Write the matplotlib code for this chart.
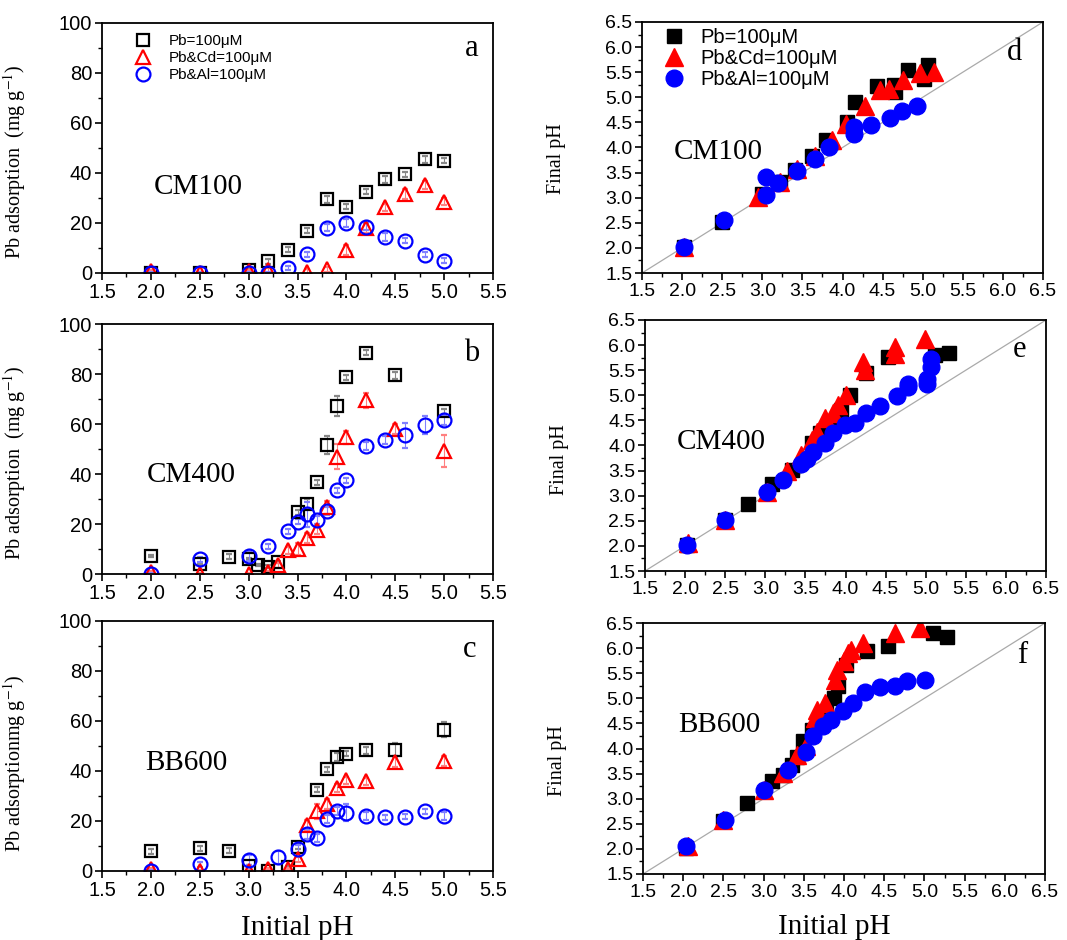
import numpy as np
import matplotlib
matplotlib.use("Agg")
import matplotlib.pyplot as plt
from matplotlib.ticker import MultipleLocator

plt.rcParams['font.family'] = ['Liberation Sans', 'DejaVu Sans']
plt.rcParams['mathtext.fontset'] = 'stix'

SERIF = ['Liberation Serif', 'DejaVu Serif']

labels = ['Pb=100\u03bcM', 'Pb&Cd=100\u03bcM', 'Pb&Al=100\u03bcM']
colors = ['black', 'red', 'blue']
ecolors = ['#888888', '#ff8080', '#8080ff']

# ---------------- Panel a (CM100 adsorption) ----------------
a_pb_x = [2.0, 2.5, 3.0, 3.2, 3.4, 3.6, 3.8, 4.0, 4.2, 4.4, 4.6, 4.8, 5.0]
a_pb_y = [0.0, 0.0, 1.3, 4.7, 9.3, 16.9, 29.5, 26.6, 32.6, 37.5, 39.6, 45.5, 45.0]
a_pb_e = [0.5, 0.5, 0.5, 1.0, 1.0, 1.0, 1.5, 1.0, 1.0, 1.5, 1.0, 1.5, 1.0]
a_cd_x = [2.0, 2.5, 3.0, 3.2, 3.6, 3.8, 4.0, 4.2, 4.4, 4.6, 4.8, 5.0]
a_cd_y = [0.8, 0.0, 0.8, 1.2, 0.5, 1.5, 9.3, 18.0, 26.3, 31.5, 35.2, 28.6]
a_cd_e = [0.5, 0.5, 0.5, 1.0, 1.0, 1.0, 2.0, 2.0, 1.5, 2.0, 1.5, 1.5]
a_al_x = [2.0, 2.5, 3.0, 3.2, 3.4, 3.6, 3.8, 4.0, 4.2, 4.4, 4.6, 4.8, 5.0]
a_al_y = [0.0, 0.0, 0.0, 0.0, 2.0, 7.6, 18.2, 20.0, 18.6, 14.4, 13.0, 7.3, 4.9]
a_al_e = [0.5, 0.5, 0.5, 0.5, 0.8, 1.0, 1.5, 1.5, 1.5, 1.5, 1.0, 1.0, 1.0]

# ---------------- Panel b (CM400 adsorption) ----------------
b_pb_x = [2.0, 2.5, 2.8, 3.0, 3.1, 3.2, 3.3, 3.5, 3.6, 3.7, 3.8, 3.9, 4.0, 4.2, 4.5, 5.0]
b_pb_y = [7.3, 4.0, 6.9, 6.0, 3.6, 3.0, 4.9, 24.8, 28.0, 36.8, 51.6, 67.3, 78.7, 88.5, 79.5, 65.2]
b_pb_e = [0.5, 0.5, 1.0, 0.5, 0.5, 0.5, 0.5, 1.0, 2.0, 1.0, 3.5, 4.0, 1.0, 1.0, 1.5, 1.0]
b_cd_x = [2.0, 2.5, 3.0, 3.2, 3.3, 3.4, 3.5, 3.6, 3.7, 3.8, 3.9, 4.0, 4.2, 4.5, 5.0]
b_cd_y = [0.8, 0.0, 0.0, 0.8, 3.6, 9.5, 10.0, 14.3, 17.6, 26.7, 46.9, 54.7, 69.6, 57.9, 49.3]
b_cd_e = [0.5, 0.5, 0.5, 0.5, 1.0, 1.5, 2.5, 2.0, 1.5, 2.5, 5.0, 2.5, 3.0, 2.0, 6.5]
b_al_x = [2.0, 2.5, 3.0, 3.2, 3.4, 3.5, 3.6, 3.7, 3.8, 3.9, 4.0, 4.2, 4.4, 4.6, 4.8, 5.0]
b_al_y = [0.0, 6.0, 7.2, 11.2, 17.2, 20.9, 24.0, 21.6, 25.3, 33.6, 37.6, 51.2, 53.6, 55.6, 59.6, 61.6]
b_al_e = [0.5, 1.0, 2.0, 1.0, 1.0, 1.0, 5.0, 1.5, 1.5, 1.0, 1.0, 1.5, 1.5, 5.0, 3.5, 2.0]

# ---------------- Panel c (BB600 adsorption) ----------------
c_pb_x = [2.0, 2.5, 2.8, 3.0, 3.2, 3.4, 3.5, 3.7, 3.8, 3.9, 4.0, 4.2, 4.5, 5.0]
c_pb_y = [8.0, 9.1, 8.1, 2.0, 0.0, 1.7, 9.7, 32.6, 40.7, 45.7, 47.0, 48.3, 48.6, 56.6]
c_pb_e = [1.0, 1.0, 1.0, 0.5, 0.5, 0.5, 1.0, 1.0, 1.0, 1.5, 1.0, 1.5, 2.5, 3.0]
c_cd_x = [2.0, 2.5, 3.0, 3.2, 3.4, 3.5, 3.6, 3.7, 3.8, 3.9, 4.0, 4.2, 4.5, 5.0]
c_cd_y = [0.8, 0.0, 0.0, 0.8, 0.8, 4.7, 18.6, 24.0, 26.8, 33.3, 36.3, 35.9, 43.7, 43.9]
c_cd_e = [0.5, 0.5, 0.5, 0.5, 0.5, 1.0, 2.0, 3.0, 2.0, 1.5, 1.5, 1.5, 2.0, 2.0]
c_al_x = [2.0, 2.5, 3.0, 3.3, 3.5, 3.6, 3.7, 3.8, 3.9, 4.0, 4.2, 4.4, 4.6, 4.8, 5.0]
c_al_y = [0.0, 2.8, 4.4, 5.5, 8.9, 14.8, 13.3, 20.8, 24.1, 23.4, 22.0, 21.6, 21.7, 24.0, 22.1]
c_al_e = [0.5, 1.0, 2.0, 2.5, 1.5, 2.0, 1.5, 1.5, 1.5, 3.5, 1.5, 1.0, 1.0, 1.0, 1.5]

# ---------------- Panel d (CM100 final pH) ----------------
d_pb_x = [2.02, 2.50, 3.00, 3.22, 3.41, 3.62, 3.79, 4.06, 4.16, 4.43, 4.66, 4.64, 4.82, 5.01, 5.07]
d_pb_y = [2.02, 2.52, 3.08, 3.31, 3.55, 3.84, 4.14, 4.51, 4.91, 5.22, 5.10, 5.24, 5.55, 5.37, 5.64]
d_cd_x = [2.02, 2.95, 3.22, 3.43, 3.66, 3.87, 4.04, 4.28, 4.47, 4.58, 4.76, 4.97, 5.14]
d_cd_y = [2.02, 3.01, 3.31, 3.58, 3.84, 4.14, 4.47, 4.82, 5.15, 5.17, 5.34, 5.48, 5.50]
d_al_x = [2.02, 2.52, 3.04, 3.04, 3.20, 3.43, 3.66, 3.83, 4.14, 4.14, 4.35, 4.59, 4.74, 4.93]
d_al_y = [2.02, 2.55, 3.41, 3.05, 3.29, 3.53, 3.78, 4.01, 4.41, 4.26, 4.44, 4.59, 4.72, 4.82]

# ---------------- Panel e (CM400 final pH) ----------------
e_pb_x = [2.02, 2.50, 2.79, 3.08, 3.33, 3.58, 3.68, 3.83, 3.95, 4.06, 4.26, 4.53, 5.12, 5.29]
e_pb_y = [2.01, 2.51, 2.84, 3.24, 3.51, 4.04, 4.24, 4.44, 4.70, 5.00, 5.44, 5.77, 5.80, 5.85]
e_cd_x = [2.04, 2.50, 3.02, 3.27, 3.45, 3.58, 3.64, 3.74, 3.85, 3.91, 4.01, 4.22, 4.24, 4.62, 4.62, 4.99]
e_cd_y = [2.05, 2.51, 3.08, 3.50, 3.81, 4.11, 4.27, 4.54, 4.64, 4.80, 5.00, 5.67, 5.50, 5.97, 5.82, 6.13]
e_al_x = [2.02, 2.50, 3.02, 3.22, 3.45, 3.52, 3.60, 3.74, 3.85, 3.99, 4.12, 4.26, 4.43, 4.64, 4.78, 4.78, 5.02, 5.02, 5.07, 5.07]
e_al_y = [2.01, 2.52, 3.08, 3.31, 3.64, 3.74, 3.87, 4.05, 4.25, 4.41, 4.45, 4.64, 4.78, 4.98, 5.16, 5.22, 5.22, 5.32, 5.57, 5.73]

# ---------------- Panel f (BB600 final pH) ----------------
f_pb_x = [2.04, 2.50, 2.79, 3.10, 3.24, 3.35, 3.41, 3.49, 3.60, 3.78, 3.87, 3.93, 4.03, 4.28, 4.55, 5.11, 5.28]
f_pb_y = [2.02, 2.55, 2.91, 3.35, 3.48, 3.68, 3.84, 4.14, 4.37, 4.70, 5.00, 5.25, 5.67, 5.94, 6.04, 6.30, 6.22]
f_cd_x = [2.06, 2.50, 3.01, 3.24, 3.41, 3.53, 3.64, 3.66, 3.76, 3.89, 3.91, 4.00, 4.05, 4.09, 4.24, 4.64, 4.94]
f_cd_y = [2.05, 2.58, 3.18, 3.51, 3.88, 4.04, 4.61, 4.77, 4.90, 5.37, 5.57, 5.74, 5.90, 5.96, 6.10, 6.30, 6.40]
f_al_x = [2.04, 2.52, 3.01, 3.30, 3.53, 3.62, 3.74, 3.84, 3.99, 4.11, 4.26, 4.45, 4.63, 4.78, 5.01]
f_al_y = [2.05, 2.57, 3.18, 3.58, 3.94, 4.24, 4.44, 4.57, 4.74, 4.91, 5.12, 5.22, 5.25, 5.35, 5.36]

W, H = 1067, 940
fig = plt.figure(figsize=(W / 100, H / 100), dpi=100)


def add_ax(left, right, top, bottom):
    return fig.add_axes([left / W, (H - bottom) / H, (right - left) / W, (bottom - top) / H])


def style(ax, xlim, ylim, xmaj, xmin, ymaj, ymin, fs):
    ax.set_xlim(*xlim)
    ax.set_ylim(*ylim)
    ax.xaxis.set_major_locator(MultipleLocator(xmaj))
    ax.xaxis.set_minor_locator(MultipleLocator(xmin))
    ax.yaxis.set_major_locator(MultipleLocator(ymaj))
    ax.yaxis.set_minor_locator(MultipleLocator(ymin))
    ax.tick_params(which='major', direction='out', length=5, width=1.2, labelsize=fs, pad=2)
    ax.tick_params(which='minor', direction='out', length=3, width=1.0)
    for s in ax.spines.values():
        s.set_linewidth(1.3)


# Left column
left_specs = [
    (add_ax(102, 493, 23, 273), 'a', 'CM100', (2.03, 31.6), (5.28, 89.8), 0.444,
     'Pb adsorption  (mg g$^{-1}$)',
     [(a_pb_x, a_pb_y, a_pb_e), (a_cd_x, a_cd_y, a_cd_e), (a_al_x, a_al_y, a_al_e)]),
    (add_ax(102, 493, 324, 574), 'b', 'CM400', (1.96, 36.9), (5.28, 88.3), 0.444,
     'Pb adsorption  (mg g$^{-1}$)',
     [(b_pb_x, b_pb_y, b_pb_e), (b_cd_x, b_cd_y, b_cd_e), (b_al_x, b_al_y, b_al_e)]),
    (add_ax(102, 493, 621, 871), 'c', 'BB600', (1.94, 40.3), (5.26, 88.5), 0.43,
     'Pb adsorptionmg g$^{-1}$)',
     [(c_pb_x, c_pb_y, c_pb_e), (c_cd_x, c_cd_y, c_cd_e), (c_al_x, c_al_y, c_al_e)]),
]
open_markers = [('s', 8), ('^', 10), ('o', 10)]

for i, (ax, letter, name, npos, lpos, ylc, ylab, series) in enumerate(left_specs):
    for (x, y, e), (m, ms), c, ec, lab in zip(series, open_markers, colors, ecolors, labels):
        ax.errorbar(x, y, yerr=e, fmt=m, ms=ms, mfc='none', mec=c, mew=1.6,
                    ecolor=ec, elinewidth=0.8, capsize=2.5, capthick=0.8, label=lab)
    style(ax, (1.5, 5.5), (0, 100), 0.5, 0.25, 20, 10, 14.5)
    ax.set_ylabel(ylab, family=SERIF, fontsize=14.5)
    ax.yaxis.set_label_coords(-0.19, ylc)
    ax.text(npos[0], npos[1], name, family=SERIF, fontsize=21, ha='left', va='baseline')
    ax.text(lpos[0], lpos[1], letter, family=SERIF, fontsize=22, ha='center', va='center')
    if i == 0:
        h, l = ax.get_legend_handles_labels()
        h = [hh[0] for hh in h]
        ax.legend(h, l, loc='upper left', bbox_to_anchor=(0.085, 0.955), frameon=False,
                  fontsize=11, handlelength=1.0, handletextpad=1.2, labelspacing=0.2,
                  borderpad=0, borderaxespad=0)

# Right column
right_specs = [
    (add_ax(642, 1043, 22, 273), 'd', 'CM100', (1.89, 3.78), (6.15, 5.9), 0.454,
     [(d_pb_x, d_pb_y), (d_cd_x, d_cd_y), (d_al_x, d_al_y)]),
    (add_ax(645, 1046, 320, 571), 'e', 'CM400', (1.90, 3.94), (6.17, 5.91), 0.444,
     [(e_pb_x, e_pb_y), (e_cd_x, e_cd_y), (e_al_x, e_al_y)]),
    (add_ax(643, 1045, 623, 874), 'f', 'BB600', (1.94, 4.33), (6.22, 5.85), 0.45,
     [(f_pb_x, f_pb_y), (f_cd_x, f_cd_y), (f_al_x, f_al_y)]),
]
filled_markers = [('s', 10), ('^', 13), ('o', 12)]

for i, (ax, letter, name, npos, lpos, ylc, series) in enumerate(right_specs):
    ax.plot([1.5, 6.5], [1.5, 6.5], color='#aaaaaa', lw=0.9, zorder=1)
    for (x, y), (m, ms), c, lab in zip(series, filled_markers, colors, labels):
        ax.plot(x, y, m, ms=ms, color=c, mec=c, label=lab, zorder=2)
    style(ax, (1.5, 6.5), (1.5, 6.5), 0.5, 0.25, 0.5, 0.25, 14)
    ax.set_ylabel('Final pH', family=SERIF, fontsize=14.5)
    ax.yaxis.set_label_coords(-0.19, ylc)
    ax.text(npos[0], npos[1], name, family=SERIF, fontsize=21, ha='left', va='baseline')
    ax.text(lpos[0], lpos[1], letter, family=SERIF, fontsize=22, ha='center', va='center')
    if i == 0:
        ax.legend(loc='upper left', bbox_to_anchor=(0.055, 0.975), frameon=False,
                  fontsize=14.5, handlelength=1.0, handletextpad=0.8, labelspacing=0.1,
                  borderpad=0, borderaxespad=0)

fig.text(297 / W, 1 - 928 / H, 'Initial pH', family=SERIF, fontsize=21, ha='center', va='center')
fig.text(834 / W, 1 - 927 / H, 'Initial pH', family=SERIF, fontsize=21, ha='center', va='center')

fig.savefig('out.png', dpi=100)
